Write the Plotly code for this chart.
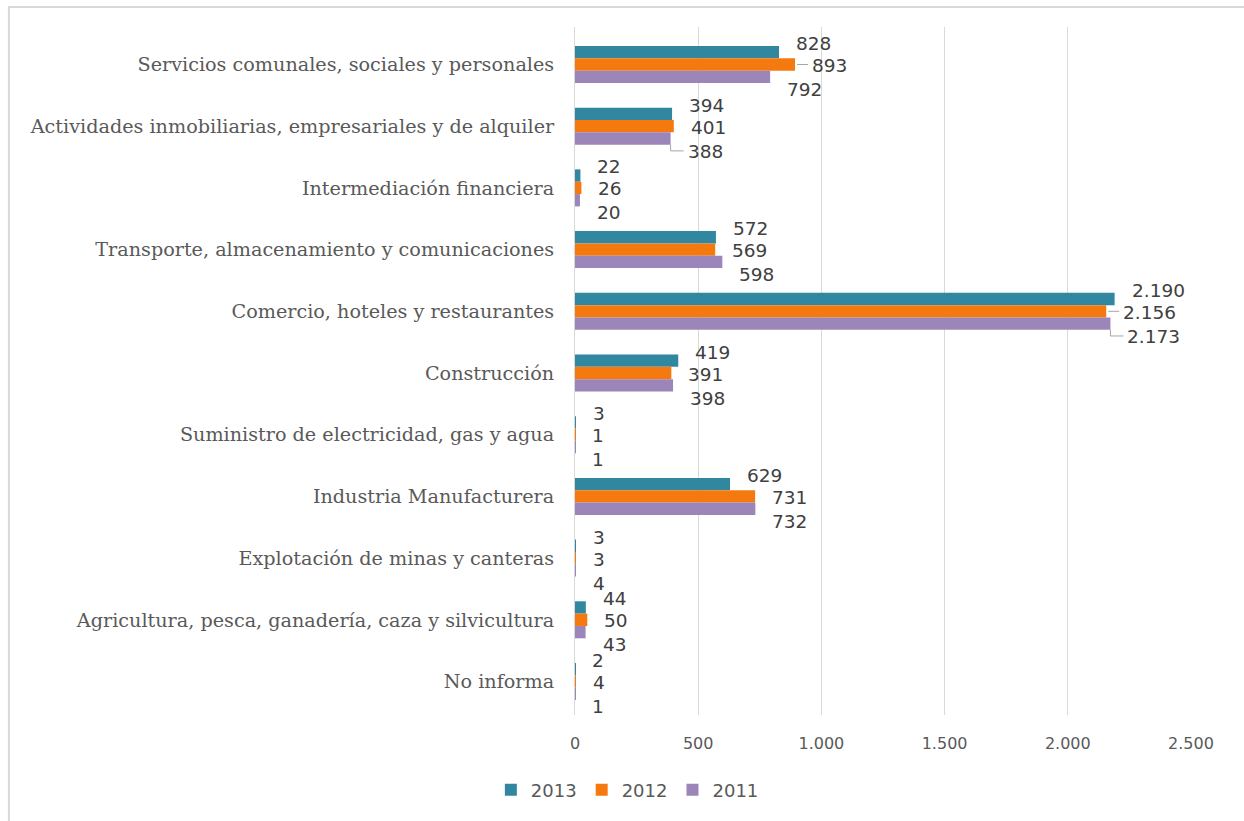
import plotly.graph_objects as go

# Sectors, listed top to bottom as shown
sectores = [
    "Servicios comunales, sociales y personales",
    "Actividades inmobiliarias, empresariales y de alquiler",
    "Intermediación financiera",
    "Transporte, almacenamiento y comunicaciones",
    "Comercio, hoteles y restaurantes",
    "Construcción",
    "Suministro de electricidad, gas y agua",
    "Industria Manufacturera",
    "Explotación de minas y canteras",
    "Agricultura, pesca, ganadería, caza y silvicultura",
    "No informa",
]

v2013 = [828, 394, 22, 572, 2190, 419, 3, 629, 3, 44, 2]
v2012 = [893, 401, 26, 569, 2156, 391, 1, 731, 3, 50, 4]
v2011 = [792, 388, 20, 598, 2173, 398, 1, 732, 4, 43, 1]

xticks = [0, 500, 1000, 1500, 2000, 2500]

# name, values, colour, vertical label offset (px)
series = [
    ("2013", v2013, "#31879F", 21),
    ("2012", v2012, "#F47A10", -1),
    ("2011", v2011, "#9C85B9", -25),
]

# labels that sit away from their bar and get a thin leader line
leaders = [("2012", 0), ("2011", 1), ("2012", 4), ("2011", 4)]

PLOT_W = 616            # plot width in px
X_MAX = 2500
PX = X_MAX / PLOT_W     # data units per pixel on x
LABEL_GAP = 15          # px between bar end and label


def fmt(v):
    return f"{v:,}".replace(",", ".")


fig = go.Figure()
annotations = []
for name, vals, color, dy in series:
    fig.add_trace(go.Bar(
        name=name, y=sectores, x=vals, orientation="h",
        marker=dict(color=color, line=dict(width=0)),
    ))
    for cat, v in zip(sectores, vals):
        annotations.append(dict(
            x=v, y=cat, xref="x", yref="y", text=fmt(v), showarrow=False,
            xanchor="left", yanchor="middle", xshift=LABEL_GAP, yshift=dy,
            font=dict(family="DejaVu Sans", size=18.5, color="#404040"),
        ))

# light frame along the left and top edges of the chart area
shapes = [dict(
    type="rect", xref="paper", yref="paper",
    x0=-0.919, x1=1.5, y0=-0.3, y1=1.029,
    line=dict(color="#D9D9D9", width=2), fillcolor="rgba(0,0,0,0)", layer="below",
)]

values = {name: vals for name, vals, _, _ in series}
leader_style = dict(color="#A6A6A6", width=1)
for name, i in leaders:
    v = values[name][i]
    x_end = v + (LABEL_GAP - 2) * PX
    if name == "2012":
        shapes.append(dict(type="line", xref="x", yref="y",
                           x0=v + 2 * PX, x1=x_end, y0=i, y1=i, line=leader_style))
    else:
        # drop from the bar's lower edge, then run across to the label
        shapes.append(dict(type="line", xref="x", yref="y",
                           x0=v, x1=v, y0=i + 0.3, y1=i + 0.4, line=leader_style))
        shapes.append(dict(type="line", xref="x", yref="y",
                           x0=v, x1=x_end, y0=i + 0.4, y1=i + 0.4, line=leader_style))

fig.update_layout(
    width=1244, height=821,
    margin=dict(l=575, r=53, t=27, b=106),
    paper_bgcolor="white", plot_bgcolor="white",
    barmode="group", bargap=0.4, bargroupgap=0,
    separators=",.",
    showlegend=True,
    legend=dict(
        orientation="h", x=0.085, y=-0.109, xanchor="center", yanchor="middle",
        font=dict(family="DejaVu Sans", size=18, color="#595959"),
        itemwidth=30,
    ),
    annotations=annotations,
    shapes=shapes,
    xaxis=dict(
        range=[0, X_MAX], tickvals=xticks, tickformat=",d",
        showgrid=True, gridcolor="#D9D9D9", gridwidth=1,
        zeroline=False, showline=False,
        ticks="outside", ticklen=14, tickcolor="rgba(0,0,0,0)",
        tickfont=dict(family="DejaVu Sans", size=16, color="#595959"),
    ),
    yaxis=dict(
        autorange="reversed", type="category",
        showgrid=False, zeroline=False,
        showline=True, linecolor="#D9D9D9", linewidth=1,
        ticks="outside", ticklen=16, tickcolor="rgba(0,0,0,0)",
        tickfont=dict(family="DejaVu Serif", size=19.2, color="#595959"),
    ),
)

fig.write_html("out.html")
